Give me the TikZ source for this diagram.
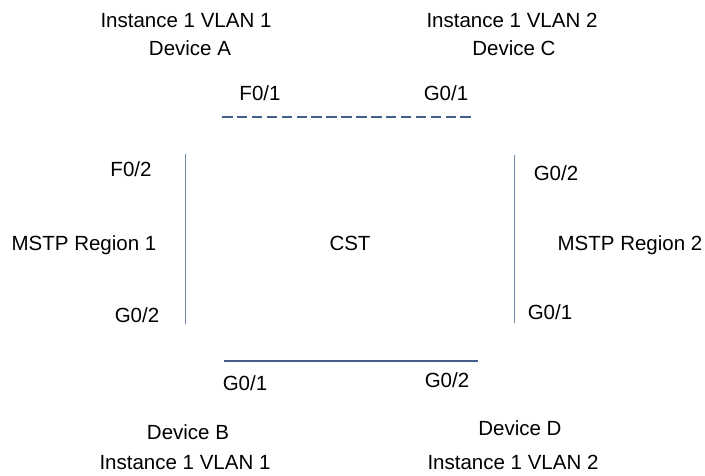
\documentclass[tikz,border=0pt]{standalone}
\usepackage{fontspec}
\setmainfont{Liberation Sans}
\definecolor{linkdark}{RGB}{68,96,138}
\definecolor{linklight}{RGB}{110,134,168}
\begin{document}
\begin{tikzpicture}[x=1pt,y=-1pt,
  lbl/.style={inner sep=0pt,anchor=base,font=\fontsize{20.5}{24}\selectfont},
  trunk/.style={draw=linkdark,line width=2.2pt},
  edge/.style={draw=linklight,line width=1pt}]
\useasboundingbox (0,0) rectangle (705,476);

% device and instance labels
\node[lbl] (instA) at (186,27.5) {Instance 1 VLAN 1};
\node[lbl] (devA)  at (190,55.5) {Device A};
\node[lbl] (instC) at (512,27.5) {Instance 1 VLAN 2};
\node[lbl] (devC)  at (514,55.5) {Device C};
\node[lbl] (devB)  at (188,439.5) {Device B};
\node[lbl] (instB) at (185,469.5) {Instance 1 VLAN 1};
\node[lbl] (devD)  at (520,435.5) {Device D};
\node[lbl] (instD) at (513,469.5) {Instance 1 VLAN 2};

% region labels
\node[lbl] (reg1) at (84,250.5) {MSTP Region 1};
\node[lbl] (cst)  at (350,250.5) {CST};
\node[lbl] (reg2) at (630,250.5) {MSTP Region 2};

% port labels
\node[lbl] (pAf1) at (260,100.5) {F0/1};
\node[lbl] (pCg1) at (446,100.5) {G0/1};
\node[lbl] (pAf2) at (131,176.5) {F0/2};
\node[lbl] (pCg2) at (556,180.5) {G0/2};
\node[lbl] (pBg2) at (137,322.5) {G0/2};
\node[lbl] (pDg1) at (550,319.5) {G0/1};
\node[lbl] (pBg1) at (245,390.5) {G0/1};
\node[lbl] (pDg2) at (447,387.5) {G0/2};

% link end points
\coordinate (aTop) at (222,117);
\coordinate (cTop) at (475,117);
\coordinate (bBot) at (224,361);
\coordinate (dBot) at (478,361);
\coordinate (aLeft) at (185.5,154);
\coordinate (bLeft) at (185.5,324);
\coordinate (cRight) at (514.5,155);
\coordinate (dRight) at (514.5,323);

% links
\draw[trunk,dash pattern=on 10.5pt off 4.4pt] (aTop) -- (cTop);
\draw[trunk] (bBot) -- (dBot);
\draw[edge] (aLeft) -- (bLeft);
\draw[edge] (cRight) -- (dRight);
\end{tikzpicture}
\end{document}
